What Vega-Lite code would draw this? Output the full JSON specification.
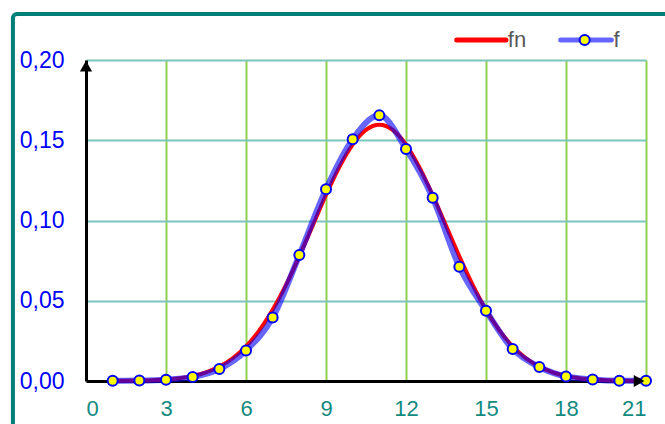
{
  "$schema": "https://vega.github.io/schema/vega-lite/v6.json",
  "width": 560,
  "height": 321,
  "autosize": {"type": "none"},
  "padding": {"left": 86, "top": 60, "right": 19, "bottom": 43},
  "background": "white",
  "config": {"view": {"stroke": null}, "font": "Liberation Sans"},
  "datasets": {
    "fn": [
      {"x": 1, "y": 0.00005}, {"x": 1.5, "y": 0.00012}, {"x": 2, "y": 0.00024}, {"x": 2.5, "y": 0.00049},
      {"x": 3, "y": 0.00095}, {"x": 3.5, "y": 0.00177}, {"x": 4, "y": 0.00317}, {"x": 4.5, "y": 0.00543},
      {"x": 5, "y": 0.00896}, {"x": 5.5, "y": 0.01419}, {"x": 6, "y": 0.0216}, {"x": 6.5, "y": 0.03158},
      {"x": 7, "y": 0.04437}, {"x": 7.5, "y": 0.05989}, {"x": 8, "y": 0.07768}, {"x": 8.5, "y": 0.09679},
      {"x": 9, "y": 0.11588}, {"x": 9.5, "y": 0.13329}, {"x": 10, "y": 0.14731}, {"x": 10.5, "y": 0.15642},
      {"x": 11, "y": 0.15958}, {"x": 11.5, "y": 0.15642}, {"x": 12, "y": 0.14731}, {"x": 12.5, "y": 0.13329},
      {"x": 13, "y": 0.11588}, {"x": 13.5, "y": 0.09679}, {"x": 14, "y": 0.07768}, {"x": 14.5, "y": 0.05989},
      {"x": 15, "y": 0.04437}, {"x": 15.5, "y": 0.03158}, {"x": 16, "y": 0.0216}, {"x": 16.5, "y": 0.01419},
      {"x": 17, "y": 0.00896}, {"x": 17.5, "y": 0.00543}, {"x": 18, "y": 0.00317}, {"x": 18.5, "y": 0.00177},
      {"x": 19, "y": 0.00095}, {"x": 19.5, "y": 0.00049}, {"x": 20, "y": 0.00024}, {"x": 20.5, "y": 0.00012},
      {"x": 21, "y": 0.00005}
    ],
    "f": [
      {"x": 1, "y": 0.0002}, {"x": 2, "y": 0.0003}, {"x": 3, "y": 0.0008}, {"x": 4, "y": 0.0025},
      {"x": 5, "y": 0.0075}, {"x": 6, "y": 0.019}, {"x": 7, "y": 0.0395}, {"x": 8, "y": 0.0785},
      {"x": 9, "y": 0.1194}, {"x": 10, "y": 0.1506}, {"x": 11, "y": 0.1655}, {"x": 12, "y": 0.1446},
      {"x": 13, "y": 0.1142}, {"x": 14, "y": 0.0712}, {"x": 15, "y": 0.0438}, {"x": 16, "y": 0.0199},
      {"x": 17, "y": 0.0087}, {"x": 18, "y": 0.0028}, {"x": 19, "y": 0.001}, {"x": 20, "y": 0.0002},
      {"x": 21, "y": 0.0001}
    ]
  },
  "layer": [
    {
      "data": {"name": "fn"},
      "mark": {"type": "line", "color": "#ff0000", "strokeWidth": 4, "interpolate": "monotone"},
      "encoding": {
        "x": {
          "field": "x", "type": "quantitative",
          "scale": {"domain": [0, 21], "nice": false, "zero": false},
          "axis": {
            "values": [0, 3, 6, 9, 12, 15, 18, 21], "title": null,
            "grid": true, "gridColor": "#92d050", "gridWidth": 2, "gridOpacity": 1,
            "domainColor": "#000000", "domainWidth": 3, "ticks": false,
            "labelColor": "#138a80", "labelFontSize": 22, "labelPadding": 17,
            "labelFont": "Liberation Sans"
          }
        },
        "y": {
          "field": "y", "type": "quantitative",
          "scale": {"domain": [0, 0.2], "nice": false, "zero": false},
          "axis": {
            "values": [0, 0.05, 0.1, 0.15, 0.2], "title": null,
            "labelExpr": "replace(format(datum.value, '.2f'), '.', ',')",
            "grid": true, "gridColor": "#7cc4bc", "gridWidth": 2, "gridOpacity": 1,
            "domainColor": "#000000", "domainWidth": 3, "ticks": false,
            "labelColor": "#0000ff", "labelFontSize": 23, "labelPadding": 22,
            "labelFont": "Liberation Sans"
          }
        }
      }
    },
    {
      "data": {"name": "f"},
      "mark": {"type": "line", "color": "#0000ff", "opacity": 0.6, "strokeWidth": 6, "interpolate": "monotone"},
      "encoding": {
        "x": {"field": "x", "type": "quantitative"},
        "y": {"field": "y", "type": "quantitative"}
      }
    },
    {
      "data": {"name": "f"},
      "mark": {"type": "point", "filled": true, "fill": "#ffff00", "stroke": "#0000ff", "strokeWidth": 2, "size": 100, "opacity": 1},
      "encoding": {
        "x": {"field": "x", "type": "quantitative"},
        "y": {"field": "y", "type": "quantitative"}
      }
    },
    {
      "data": {"values": [{}]},
      "layer": [
        {
          "mark": {"type": "point", "shape": "triangle-up", "filled": true, "color": "#000000", "size": 150, "opacity": 1},
          "encoding": {"x": {"datum": 0, "type": "quantitative"}, "y": {"datum": 0.1962, "type": "quantitative"}}
        },
        {
          "mark": {"type": "point", "shape": "triangle-right", "filled": true, "color": "#000000", "size": 150, "opacity": 1},
          "encoding": {"x": {"datum": 20.74, "type": "quantitative"}, "y": {"datum": 0, "type": "quantitative"}}
        },
        {
          "mark": {"type": "rule", "color": "#ff0000", "strokeWidth": 5, "strokeCap": "round"},
          "encoding": {"x": {"datum": 13.9, "type": "quantitative"}, "x2": {"datum": 15.75}, "y": {"datum": 0.2125, "type": "quantitative"}}
        },
        {
          "mark": {"type": "text", "text": "fn", "align": "left", "baseline": "middle", "fontSize": 22, "color": "#595959", "font": "Liberation Sans"},
          "encoding": {"x": {"datum": 15.82, "type": "quantitative"}, "y": {"datum": 0.2122, "type": "quantitative"}}
        },
        {
          "mark": {"type": "rule", "color": "#0000ff", "opacity": 0.6, "strokeWidth": 5, "strokeCap": "round"},
          "encoding": {"x": {"datum": 17.8, "type": "quantitative"}, "x2": {"datum": 19.7}, "y": {"datum": 0.2125, "type": "quantitative"}}
        },
        {
          "mark": {"type": "point", "filled": true, "fill": "#ffff00", "stroke": "#0000ff", "strokeWidth": 2, "size": 100, "opacity": 1},
          "encoding": {"x": {"datum": 18.7, "type": "quantitative"}, "y": {"datum": 0.2125, "type": "quantitative"}}
        },
        {
          "mark": {"type": "text", "text": "f", "align": "left", "baseline": "middle", "fontSize": 22, "color": "#595959", "font": "Liberation Sans"},
          "encoding": {"x": {"datum": 19.78, "type": "quantitative"}, "y": {"datum": 0.2122, "type": "quantitative"}}
        },
        {
          "mark": {"type": "rect", "fill": null, "stroke": "#007f78", "strokeWidth": 4, "cornerRadius": 4, "clip": false},
          "encoding": {
            "x": {"datum": -2.74, "type": "quantitative"}, "x2": {"datum": 25},
            "y": {"datum": 0.2287, "type": "quantitative"}, "y2": {"datum": -0.05}
          }
        }
      ]
    }
  ]
}
